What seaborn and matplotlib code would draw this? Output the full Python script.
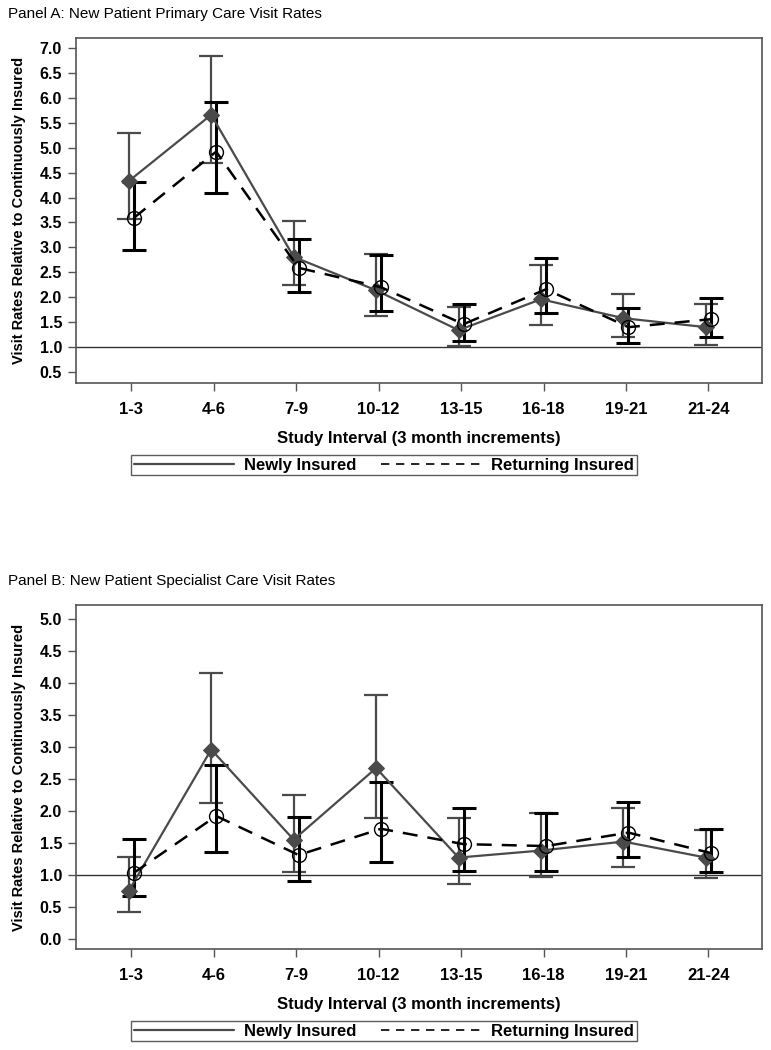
import numpy as np
import pandas as pd
import matplotlib
matplotlib.use("Agg")
import matplotlib.pyplot as plt
from matplotlib.lines import Line2D
import seaborn as sns

intervals = ["1-3", "4-6", "7-9", "10-12", "13-15", "16-18", "19-21", "21-24"]

# Panel A: primary care
a_new = [4.33, 5.66, 2.81, 2.14, 1.34, 1.96, 1.58, 1.40]
a_new_lo = [3.57, 4.69, 2.25, 1.62, 1.02, 1.44, 1.20, 1.04]
a_new_hi = [5.30, 6.84, 3.53, 2.87, 1.80, 2.65, 2.06, 1.86]
a_ret = [3.59, 4.92, 2.59, 2.20, 1.46, 2.16, 1.40, 1.56]
a_ret_lo = [2.95, 4.09, 2.10, 1.72, 1.12, 1.68, 1.08, 1.20]
a_ret_hi = [4.31, 5.92, 3.17, 2.85, 1.86, 2.79, 1.78, 1.98]

# Panel B: specialist care
b_new = [0.75, 2.96, 1.55, 2.67, 1.27, 1.38, 1.52, 1.27]
b_new_lo = [0.42, 2.13, 1.05, 1.89, 0.86, 0.97, 1.13, 0.95]
b_new_hi = [1.28, 4.15, 2.25, 3.81, 1.89, 1.97, 2.05, 1.70]
b_ret = [1.03, 1.92, 1.31, 1.72, 1.48, 1.45, 1.66, 1.34]
b_ret_lo = [0.67, 1.36, 0.91, 1.20, 1.06, 1.06, 1.28, 1.05]
b_ret_hi = [1.56, 2.72, 1.91, 2.45, 2.05, 1.97, 2.14, 1.72]

sns.set_theme(style="white")
plt.rcParams['font.family'] = ['Liberation Sans', 'DejaVu Sans']
plt.rcParams['text.color'] = 'black'
plt.rcParams['axes.labelcolor'] = 'black'
plt.rcParams['xtick.color'] = 'black'
plt.rcParams['ytick.color'] = 'black'

GRAY = '#4a4a4a'
BLACK = '#000000'

fig = plt.figure(figsize=(7.71, 10.5), dpi=100)


def draw_panel(ax, title, new, new_lo, new_hi, ret, ret_lo, ret_hi, ylim, yticks, title_y):
    x = np.arange(len(intervals))
    off = 0.03
    df = pd.DataFrame({
        'x': np.concatenate([x - off, x + off]),
        'rate': new + ret,
        'group': ['Newly Insured'] * len(x) + ['Returning Insured'] * len(x),
    })

    ax.axhline(1.0, color='#333333', lw=1.0, zorder=1)

    # error bars
    new_arr = np.array(new)
    ret_arr = np.array(ret)
    ax.errorbar(x - off, new_arr,
                yerr=[new_arr - np.array(new_lo), np.array(new_hi) - new_arr],
                fmt='none', ecolor=GRAY, elinewidth=1.6, capsize=8.5, capthick=1.6, zorder=2)
    ax.errorbar(x + off, ret_arr,
                yerr=[ret_arr - np.array(ret_lo), np.array(ret_hi) - ret_arr],
                fmt='none', ecolor=BLACK, elinewidth=2.2, capsize=8.5, capthick=2.2, zorder=3)

    sns.lineplot(data=df[df.group == 'Newly Insured'], x='x', y='rate', ax=ax,
                 color=GRAY, lw=1.6, marker='D', markersize=8,
                 markerfacecolor=GRAY, markeredgecolor=GRAY, legend=False, zorder=4)
    sns.lineplot(data=df[df.group == 'Returning Insured'], x='x', y='rate', ax=ax,
                 color=BLACK, lw=1.8, marker='o', markersize=10,
                 markerfacecolor='none', markeredgecolor=BLACK, markeredgewidth=1.0,
                 legend=False, zorder=5)
    ax.lines[-1].set_dashes([6, 4])

    ax.set_xlim(-0.67, 7.65)
    ax.set_ylim(*ylim)
    ax.set_xticks(x)
    ax.set_xticklabels(intervals, fontsize=12, fontweight='bold')
    ax.set_yticks(yticks)
    ax.set_yticklabels([f"{v:.1f}" for v in yticks], fontsize=11.5, fontweight='bold')
    ax.tick_params(axis='both', direction='out', length=6, width=1, color='#555555',
                   bottom=True, left=True, pad=4)
    ax.tick_params(axis='x', pad=8)
    for s in ax.spines.values():
        s.set_color('#555555')
        s.set_linewidth(1.2)

    ax.set_xlabel("Study Interval (3 month increments)", fontsize=12, fontweight='bold',
                  labelpad=10)
    ax.set_ylabel("Visit Rates Relative to Continuously Insured", fontsize=10.5,
                  fontweight='bold', labelpad=10)
    fig.text(8 / 771, title_y, title, fontsize=11, ha='left', va='center')

    handles = [
        Line2D([0], [0], color=GRAY, lw=1.6),
        Line2D([0], [0], color=BLACK, lw=1.2, dashes=[5, 4]),
    ]
    leg = ax.legend(handles, ['Newly Insured', 'Returning Insured'], ncol=2,
                    loc='upper center', bbox_to_anchor=(0.449, -0.21),
                    frameon=True, fancybox=False, handlelength=6.0, handletextpad=0.6,
                    columnspacing=1.5, borderpad=0.15, borderaxespad=0,
                    prop={'weight': 'bold', 'size': 12})
    leg.get_frame().set_edgecolor('#333333')
    leg.get_frame().set_linewidth(1.0)


ax1 = fig.add_axes([76 / 771, 1 - 383 / 1050, (762 - 76) / 771, (383 - 38) / 1050])
draw_panel(ax1, "Panel A: New Patient Primary Care Visit Rates",
           a_new, a_new_lo, a_new_hi, a_ret, a_ret_lo, a_ret_hi,
           (0.28, 7.2), np.arange(0.5, 7.01, 0.5), 1 - 14 / 1050)

ax2 = fig.add_axes([76 / 771, 1 - 949 / 1050, (762 - 76) / 771, (949 - 605) / 1050])
draw_panel(ax2, "Panel B: New Patient Specialist Care Visit Rates",
           b_new, b_new_lo, b_new_hi, b_ret, b_ret_lo, b_ret_hi,
           (-0.16, 5.22), np.arange(0.0, 5.01, 0.5), 1 - 581 / 1050)

fig.savefig("out.png", dpi=100)
